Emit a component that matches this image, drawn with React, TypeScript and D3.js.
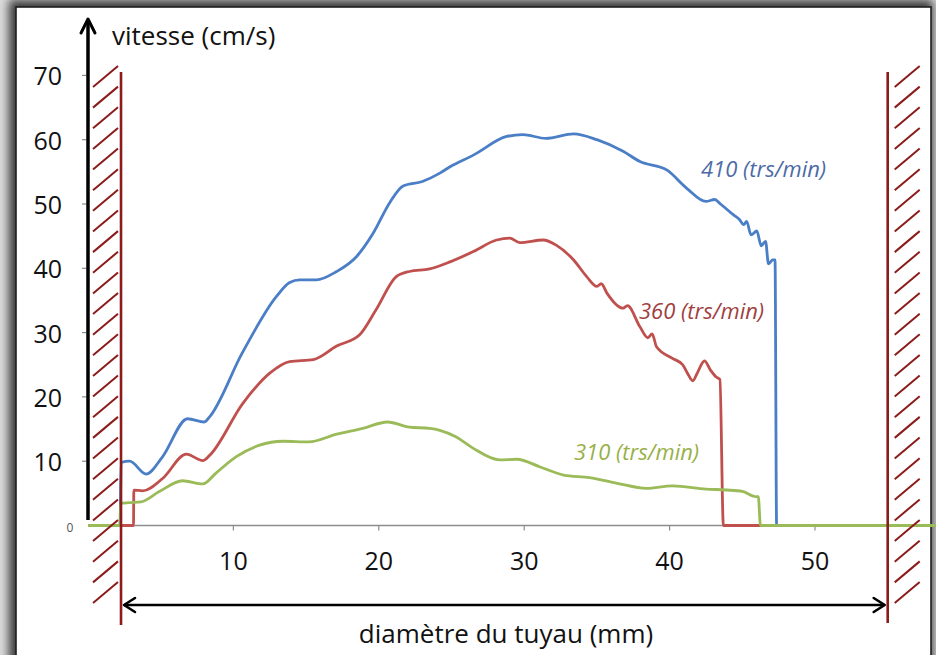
import React from 'react';
import * as d3 from 'd3';

// ---- data ----
const xTicks = [10, 20, 30, 40, 50];
const yTicks = [10, 20, 30, 40, 50, 60, 70];
const walls = [2.27, 55];

const mm410 = [0, 2.2, 2.28, 2.86, 4.0, 5.1, 6.85, 8.0, 8.36, 10.6, 12.95, 13.87, 14.56, 15.7, 17.1, 18.46, 19.6, 20.75, 21.67, 23.0, 24.2, 24.9, 26.5, 28.8, 29.9, 31.5, 33.4, 35.0, 36.8, 37.96, 39.8, 41.2, 42.5, 43.1, 43.5, 44.4, 44.8, 45.1, 45.3, 45.6, 46.0, 46.3, 46.6, 46.8, 47.1, 47.25, 47.36, 58.5];
const v410 = [0, 0, 9.8, 10.0, 8.0, 10.6, 16.6, 16.1, 16.9, 26.8, 35.6, 37.8, 38.2, 38.2, 39.5, 41.8, 45.4, 50.2, 52.8, 53.5, 54.8, 55.8, 57.6, 60.5, 60.8, 60.2, 60.9, 60.0, 58.2, 56.6, 55.3, 52.4, 50.4, 50.7, 50.0, 48.3, 47.6, 46.8, 47.3, 45.2, 45.8, 43.5, 44.2, 40.7, 41.3, 41.3, 0, 0];

const mm360 = [0, 3.13, 3.15, 3.77, 5.15, 6.76, 7.9, 8.36, 10.65, 12.5, 13.87, 15.5, 17.1, 18.7, 19.8, 21.2, 22.1, 23.5, 24.9, 26.5, 28.1, 29.0, 29.7, 31.3, 32.2, 33.4, 34.3, 35.0, 35.3, 35.7, 36.8, 37.1, 37.96, 38.5, 38.8, 39.1, 40.2, 40.9, 41.2, 41.6, 41.9, 42.4, 42.8, 43.2, 43.46, 43.7, 58.5];
const v360 = [0, 0, 5.5, 5.4, 7.35, 11.1, 10.1, 10.9, 19.0, 23.7, 25.5, 25.8, 27.9, 29.7, 33.5, 38.7, 39.5, 39.9, 41.0, 42.6, 44.4, 44.7, 44.0, 44.4, 43.6, 41.3, 38.7, 37.2, 37.6, 36.1, 33.8, 34.2, 30.9, 29.2, 29.8, 27.8, 26.0, 25.0, 23.8, 22.5, 23.7, 25.6, 24.2, 23.1, 22.7, 0, 0];

const mm310 = [0, 2.2, 2.25, 2.86, 3.66, 4.9, 6.5, 7.9, 8.8, 10.2, 11.8, 13.4, 15.2, 17.1, 18.9, 20.6, 22.1, 23.5, 24.2, 25.3, 26.5, 28.3, 29.5, 31.1, 32.7, 34.5, 36.4, 38.4, 40.2, 42.5, 43.9, 45.0, 45.75, 45.9, 46.1, 46.25, 58.5];
const v310 = [0, 0, 3.44, 3.55, 3.69, 5.27, 6.96, 6.46, 8.15, 10.7, 12.5, 13.1, 13.0, 14.2, 15.1, 16.1, 15.3, 15.1, 14.8, 13.8, 12.0, 10.2, 10.3, 9.1, 7.85, 7.45, 6.56, 5.77, 6.16, 5.67, 5.52, 5.3, 4.58, 4.48, 4.48, 0, 0];

const seriesNames = ['410 (trs/min)', '360 (trs/min)', '310 (trs/min)'];
const lineColors = ['#4A7EC6', '#C0504D', '#9BBB59'];
const labelColors = ['#4C6BA6', '#A0403F', '#98B048'];

export default function App() {
  const W = 936, H = 655;
  const x = d3.scaleLinear().domain([0, 50]).range([88, 815]);
  const y = d3.scaleLinear().domain([0, 70]).range([525.5, 75.4]);
  const line = d3.line<[number, number]>()
    .x(d => x(d[0]))
    .y(d => y(d[1]))
    .curve(d3.curveMonotoneX);

  const series = [
    { mm: mm410, v: v410 },
    { mm: mm360, v: v360 },
    { mm: mm310, v: v310 },
  ];
  const labelPos = [
    { x: 701, y: 177 },
    { x: 639, y: 319 },
    { x: 574, y: 460 },
  ];

  const wallColor = '#8B1C1C';
  const hatchN = 26;
  const hatchY0 = 87;
  const hatchStep = 20.64;
  const font = "'Open Sans', 'DejaVu Sans', sans-serif";

  return (
    <svg width={W} height={H} style={{ position: 'absolute', left: 0, top: 0, display: 'block' }}>
      <defs>
        <filter id="sh" x="-10%" y="-10%" width="120%" height="120%">
          <feGaussianBlur stdDeviation="5" />
        </filter>
        <clipPath id="clip">
          <rect x={0} y={0} width={W} height={H} />
        </clipPath>
      </defs>
      <rect x={0} y={0} width={W} height={H} fill="#dadada" />
      <rect x={9} y={0} width={924} height={680} fill="#3a3a3a" filter="url(#sh)" />
      <rect x={16} y={7} width={915} height={670} fill="#ffffff" stroke="#1e1e1e" strokeWidth={1.6} />

      {/* x axis grey */}
      <line x1={x(0)} x2={W} y1={y(0)} y2={y(0)} stroke="#8c8c8c" strokeWidth={1.5} />
      {xTicks.map(t => (
        <line key={'xt' + t} x1={x(t)} x2={x(t)} y1={y(0)} y2={y(0) + 5} stroke="#8c8c8c" strokeWidth={1.2} />
      ))}
      {yTicks.map(t => (
        <line key={'yt' + t} x1={x(0) - 6} x2={x(0)} y1={y(t)} y2={y(t)} stroke="#8c8c8c" strokeWidth={1.2} />
      ))}

      {/* y axis black arrow */}
      <line x1={x(0)} x2={x(0)} y1={520} y2={20} stroke="#000" strokeWidth={3.5} />
      <polyline points={`${x(0) - 7},33 ${x(0)},19 ${x(0) + 7},33`} fill="none" stroke="#000" strokeWidth={3} strokeLinecap="round" strokeLinejoin="round" />

      {/* tick labels */}
      {yTicks.map(t => (
        <text key={'yl' + t} x={62} y={y(t) + 10} textAnchor="end" fontFamily={font} fontSize={25} fill="#111">{t}</text>
      ))}
      <text x={70} y={532} textAnchor="middle" fontFamily={font} fontSize={12} fill="#555">0</text>
      {xTicks.map(t => (
        <text key={'xl' + t} x={x(t)} y={570} textAnchor="middle" fontFamily={font} fontSize={25} fill="#111">{t}</text>
      ))}

      {/* curves */}
      <g clipPath="url(#clip)">
        {series.map((s, i) => (
          <path key={'s' + i}
            d={line(s.mm.map((m, j) => [m, s.v[j]] as [number, number])) || ''}
            fill="none" stroke={lineColors[i]} strokeWidth={2.8} strokeLinejoin="round" />
        ))}
      </g>

      {/* series labels */}
      {seriesNames.map((n, i) => (
        <text key={'ln' + i} x={labelPos[i].x} y={labelPos[i].y} fontFamily={font} fontStyle="italic" fontSize={22} fill={labelColors[i]}>{n}</text>
      ))}

      {/* walls */}
      <line x1={x(walls[0])} x2={x(walls[0])} y1={72} y2={625} stroke={wallColor} strokeWidth={2.6} />
      <line x1={x(walls[1])} x2={x(walls[1])} y1={72} y2={623} stroke={wallColor} strokeWidth={2.6} />
      {d3.range(hatchN).map(i => {
        const yy = hatchY0 + i * hatchStep;
        return (
          <g key={'h' + i}>
            <line x1={x(walls[0]) - 28} y1={yy} x2={x(walls[0]) - 3} y2={yy - 21} stroke={wallColor} strokeWidth={2} />
            <line x1={x(walls[1]) + 7} y1={yy} x2={x(walls[1]) + 32} y2={yy - 21} stroke={wallColor} strokeWidth={2} />
          </g>
        );
      })}

      {/* diameter arrow */}
      <line x1={x(walls[0]) + 3} x2={x(walls[1]) - 3} y1={605} y2={605} stroke="#000" strokeWidth={2.6} />
      <polyline points={`${x(walls[0]) + 14},598 ${x(walls[0]) + 3},605 ${x(walls[0]) + 14},612`} fill="none" stroke="#000" strokeWidth={2.6} strokeLinecap="round" strokeLinejoin="round" />
      <polyline points={`${x(walls[1]) - 14},598 ${x(walls[1]) - 3},605 ${x(walls[1]) - 14},612`} fill="none" stroke="#000" strokeWidth={2.6} strokeLinecap="round" strokeLinejoin="round" />

      {/* axis titles */}
      <text x={112} y={45} fontFamily={font} fontSize={26} fill="#111">vitesse (cm/s)</text>
      <text x={506} y={643} textAnchor="middle" fontFamily={font} fontSize={26} fill="#111">diamètre du tuyau (mm)</text>
    </svg>
  );
}
